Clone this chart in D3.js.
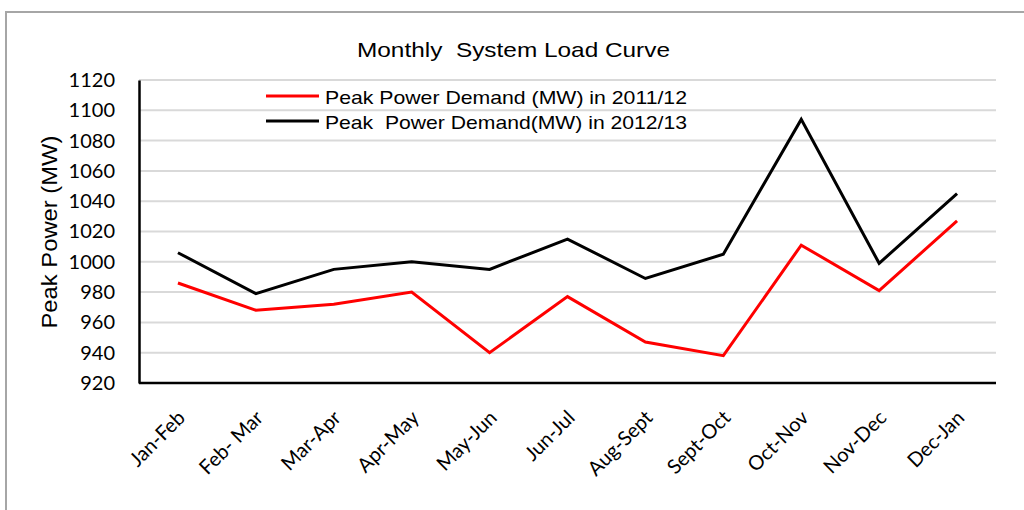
<!DOCTYPE html>
<html>
<head>
<meta charset="utf-8">
<script src="https://cdn.jsdelivr.net/npm/d3@7"></script>
<style>
  body { margin: 0; background: #fff; }
</style>
</head>
<body>
<script>
// data
var months = ["Jan-Feb", "Feb- Mar", "Mar-Apr", "Apr-May", "May-Jun", "Jun-Jul",
              "Aug-Sept", "Sept-Oct", "Oct-Nov", "Nov-Dec", "Dec-Jan"];
var demand2011 = [986, 968, 972, 980, 940, 977, 947, 938, 1011, 981, 1027];
var demand2012 = [1006, 979, 995, 1000, 995, 1015, 989, 1005, 1094, 999, 1045];
var yTicks = [920, 940, 960, 980, 1000, 1020, 1040, 1060, 1080, 1100, 1120];
var seriesNames = ["Peak Power Demand (MW) in 2011/12", "Peak  Power Demand(MW) in 2012/13"];
var seriesColors = ["#ff0000", "#000000"];

var width = 1024, height = 510;
var margin = {left: 139, right: 28, top: 80, bottom: 127};

var svg = d3.select("body").append("svg")
    .attr("width", width)
    .attr("height", height);

// outer chart border
svg.append("rect")
    .attr("x", 6).attr("y", 12)
    .attr("width", 1030).attr("height", 520)
    .attr("fill", "none")
    .attr("stroke", "#a6a6a6")
    .attr("stroke-width", 2);

var x = d3.scalePoint()
    .domain(months)
    .range([margin.left, width - margin.right])
    .padding(0.5);

var y = d3.scaleLinear()
    .domain([920, 1120])
    .range([height - margin.bottom, margin.top]);

// gridlines
svg.append("g")
    .selectAll("line")
    .data(yTicks.slice(1))
    .enter()
    .append("line")
    .attr("x1", margin.left)
    .attr("x2", width - margin.right)
    .attr("y1", function(d) { return y(d); })
    .attr("y2", function(d) { return y(d); })
    .attr("stroke", "#d9d9d9")
    .attr("stroke-width", 2);

// y axis
var yAxis = d3.axisLeft(y).tickValues(yTicks).tickFormat(d3.format("d"))
    .tickSize(0).tickPadding(24);
var gy = svg.append("g")
    .attr("transform", "translate(" + margin.left + ",0)")
    .call(yAxis);
gy.select(".domain").attr("stroke", "#000").attr("stroke-width", 2.5);
gy.selectAll("text")
    .attr("font-family", "Lato, sans-serif")
    .attr("font-size", "20px")
    .attr("fill", "#000");

// x axis
var xAxis = d3.axisBottom(x).tickSize(0).tickPadding(0);
var gx = svg.append("g")
    .attr("transform", "translate(0," + (height - margin.bottom) + ")")
    .call(xAxis);
gx.select(".domain")
    .attr("d", "M" + margin.left + ",0H" + (width - margin.right))
    .attr("stroke", "#000").attr("stroke-width", 2.5);
gx.selectAll("text")
    .attr("font-family", "Lato, sans-serif")
    .attr("font-size", "20px")
    .attr("fill", "#000")
    .attr("text-anchor", "end")
    .attr("dy", null)
    .attr("y", 0)
    .attr("transform", "translate(8,36) rotate(-45)");

// lines
var line = d3.line()
    .x(function(d, i) { return x(months[i]); })
    .y(function(d) { return y(d); });

svg.selectAll(".series")
    .data([demand2011, demand2012])
    .enter()
    .append("path")
    .attr("class", "series")
    .attr("d", line)
    .attr("fill", "none")
    .attr("stroke", function(d, i) { return seriesColors[i]; })
    .attr("stroke-width", 3)
    .attr("stroke-linejoin", "miter");

// title
svg.append("text")
    .attr("x", 357).attr("y", 57)
    .attr("font-family", "Liberation Sans, Arial, sans-serif")
    .attr("font-size", "21px")
    .attr("textLength", 313)
    .attr("lengthAdjust", "spacingAndGlyphs")
    .style("white-space", "pre")
    .text("Monthly  System Load Curve");

// y axis title
svg.append("text")
    .attr("transform", "translate(57,232) rotate(-90)")
    .attr("text-anchor", "middle")
    .attr("font-family", "Liberation Sans, Arial, sans-serif")
    .attr("font-size", "22px")
    .attr("textLength", 193)
    .attr("lengthAdjust", "spacingAndGlyphs")
    .text("Peak Power (MW)");

// legend
var legend = svg.append("g").attr("transform", "translate(266,96)");
var items = legend.selectAll("g")
    .data(seriesNames)
    .enter()
    .append("g")
    .attr("transform", function(d, i) { return "translate(0," + (i * 25) + ")"; });
items.append("line")
    .attr("x1", 0).attr("x2", 53)
    .attr("stroke", function(d, i) { return seriesColors[i]; })
    .attr("stroke-width", 3);
items.append("text")
    .attr("x", 59).attr("y", 8)
    .attr("font-family", "Liberation Sans, Arial, sans-serif")
    .attr("font-size", "19px")
    .attr("textLength", 362)
    .attr("lengthAdjust", "spacingAndGlyphs")
    .style("white-space", "pre")
    .text(function(d) { return d; });
</script>
</body>
</html>
